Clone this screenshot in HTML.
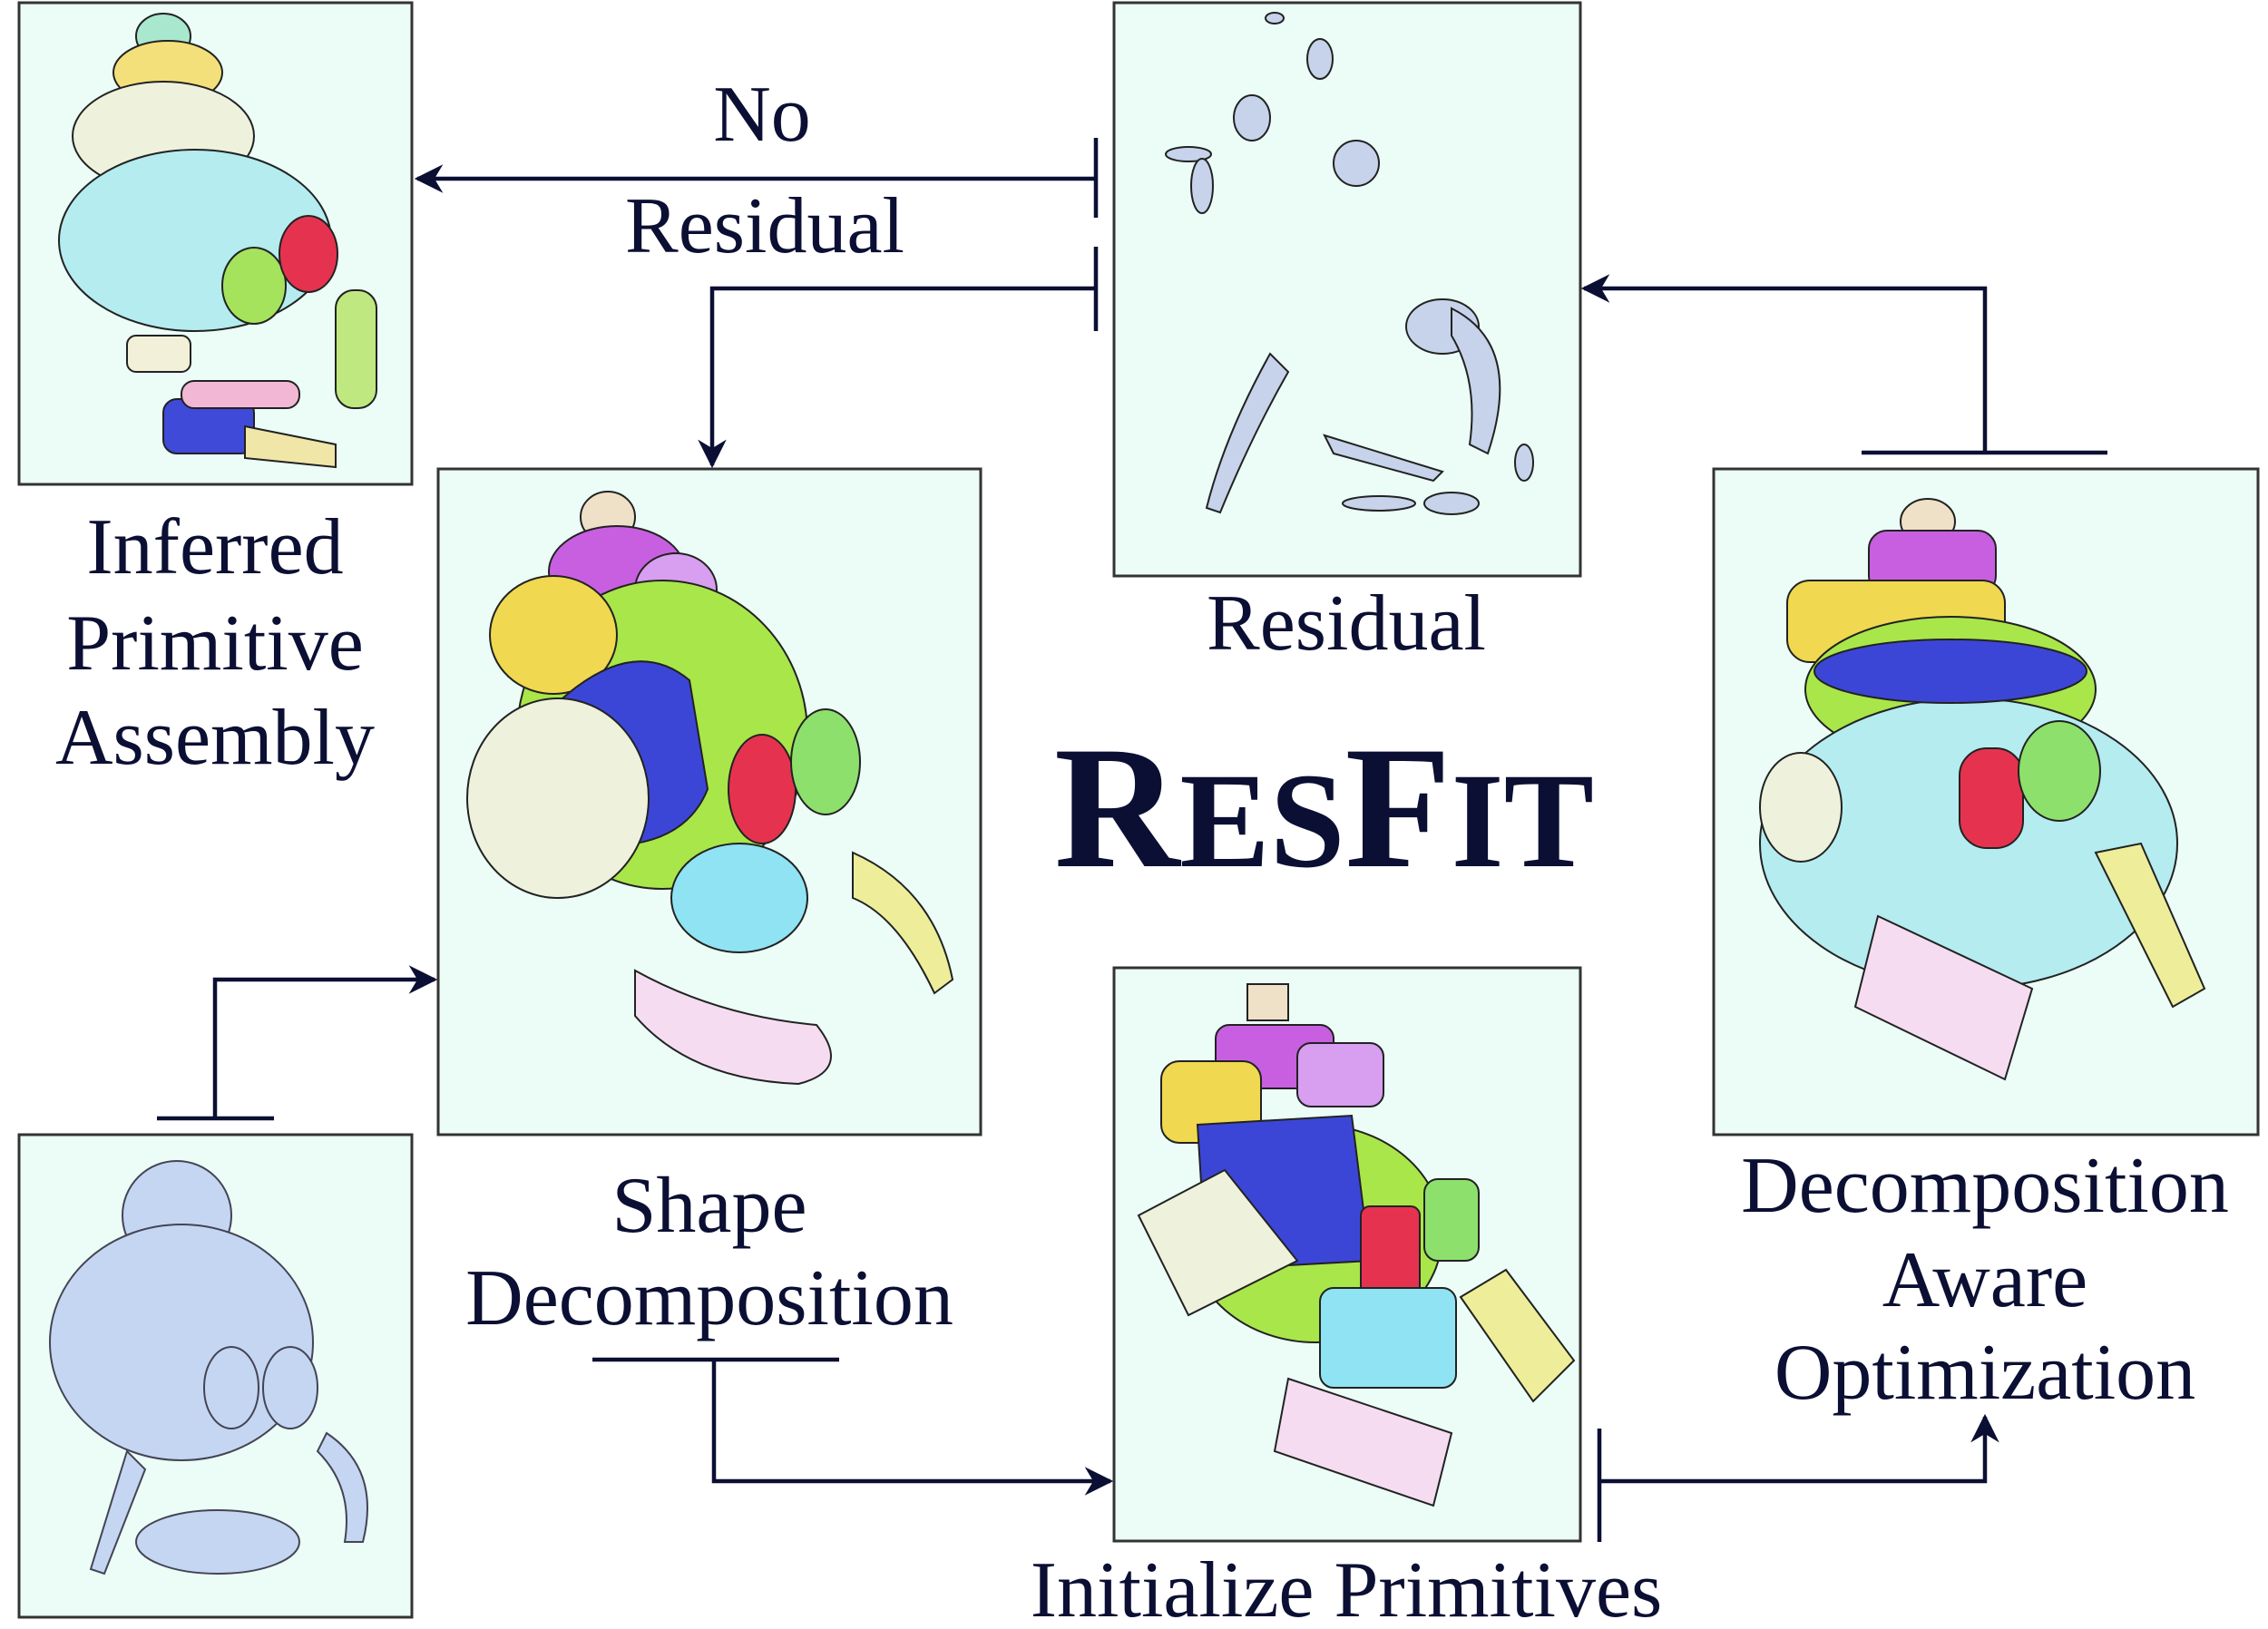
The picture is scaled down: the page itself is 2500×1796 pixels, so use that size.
<!DOCTYPE html>
<html><head><meta charset="utf-8"><style>
html,body{margin:0;padding:0;background:#fff}
svg{display:block}
text{font-family:"Liberation Serif",serif;fill:#0b0f33}
</style></head><body>
<svg width="2500" height="1796" viewBox="0 0 2500 1796" xmlns="http://www.w3.org/2000/svg">
<defs>
<marker id="ah" viewBox="0 0 20 20" refX="18" refY="10" markerWidth="7" markerHeight="7" orient="auto" markerUnits="strokeWidth">
<path d="M0,0 L20,10 L0,20 L6,10 Z" fill="#0b0f33"/></marker>
</defs>
<g fill="#ebfdf6" stroke="#333" stroke-width="3">
<rect x="21" y="3" width="433" height="531"/>
<rect x="483" y="517" width="598" height="734"/>
<rect x="1228" y="3" width="514" height="632"/>
<rect x="1228" y="1067" width="514" height="632"/>
<rect x="1889" y="517" width="600" height="734"/>
<rect x="21" y="1251" width="433" height="532"/>
</g>
<!-- panel 1: inferred -->
<g stroke="#222" stroke-width="2">
<ellipse cx="180" cy="40" rx="30" ry="25" fill="#a9e8cf"/>
<ellipse cx="185" cy="80" rx="60" ry="35" fill="#f4e07a"/>
<ellipse cx="180" cy="150" rx="100" ry="60" fill="#eef2dd"/>
<ellipse cx="215" cy="265" rx="150" ry="100" fill="#b4ecf0"/>
<ellipse cx="280" cy="315" rx="35" ry="42" fill="#a6e35d"/>
<ellipse cx="340" cy="280" rx="32" ry="42" fill="#e5334f"/>
<rect x="370" y="320" width="45" height="130" rx="20" fill="#bfe980"/>
<rect x="180" y="440" width="100" height="60" rx="15" fill="#3f4ad8"/>
<path d="M270 470 L370 490 L370 515 L270 505Z" fill="#f0e6a8"/>
<rect x="200" y="420" width="130" height="30" rx="14" fill="#f3b7d6"/>
<rect x="140" y="370" width="70" height="40" rx="10" fill="#f2f0d8"/>
</g>
<!-- panel shape decomposition -->
<g stroke="#222" stroke-width="2">
<ellipse cx="670" cy="570" rx="30" ry="28" fill="#efe0c8"/>
<ellipse cx="680" cy="630" rx="75" ry="50" fill="#c85fe0"/>
<ellipse cx="745" cy="650" rx="45" ry="40" fill="#d89ef0"/>
<ellipse cx="730" cy="810" rx="160" ry="170" fill="#a9e64a"/>
<ellipse cx="610" cy="700" rx="70" ry="65" fill="#f0d850"/>
<path d="M620 770 Q700 700 760 750 L780 870 Q760 920 700 930 L660 850Z" fill="#3c46d6"/>
<ellipse cx="615" cy="880" rx="100" ry="110" fill="#eef2dc"/>
<ellipse cx="840" cy="870" rx="37" ry="60" fill="#e5334f"/>
<ellipse cx="910" cy="840" rx="38" ry="58" fill="#8ee06c"/>
<ellipse cx="815" cy="990" rx="75" ry="60" fill="#8fe3f3"/>
<path d="M940 940 Q1030 980 1050 1080 L1030 1095 Q990 1010 940 990Z" fill="#eeee9a"/>
<path d="M700 1070 Q790 1120 900 1130 Q940 1180 880 1195 Q760 1190 700 1120Z" fill="#f5dcf0"/>
</g>
<!-- residual -->
<g fill="#c6d3ea" stroke="#222" stroke-width="2">
<ellipse cx="1405" cy="20" rx="10" ry="6"/>
<ellipse cx="1455" cy="65" rx="14" ry="22"/>
<ellipse cx="1380" cy="130" rx="20" ry="25"/>
<ellipse cx="1310" cy="170" rx="25" ry="8"/>
<ellipse cx="1495" cy="180" rx="25" ry="25"/>
<ellipse cx="1325" cy="205" rx="12" ry="30"/>
<ellipse cx="1590" cy="360" rx="40" ry="30"/>
<path d="M1600 340 Q1680 380 1640 500 L1620 490 Q1630 420 1600 370Z"/>
<path d="M1400 390 Q1350 480 1330 560 L1345 565 Q1380 480 1420 410Z"/>
<path d="M1460 480 L1590 520 L1580 530 L1470 500Z"/>
<ellipse cx="1600" cy="555" rx="30" ry="12"/>
<ellipse cx="1520" cy="555" rx="40" ry="8"/>
<ellipse cx="1680" cy="510" rx="10" ry="20"/>
</g>
<!-- init primitives -->
<g stroke="#222" stroke-width="2">
<rect x="1375" y="1085" width="45" height="40" fill="#efe0c8"/>
<rect x="1340" y="1130" width="130" height="70" rx="15" fill="#c85fe0"/>
<rect x="1430" y="1150" width="95" height="70" rx="15" fill="#d89ef0"/>
<rect x="1280" y="1170" width="110" height="90" rx="20" fill="#f0d850"/>
<ellipse cx="1450" cy="1360" rx="140" ry="120" fill="#a9e64a"/>
<path d="M1320 1240 L1490 1230 L1510 1390 L1330 1400Z" fill="#3c46d6"/>
<path d="M1255 1340 L1350 1290 L1430 1390 L1310 1450Z" fill="#eef2dc"/>
<rect x="1500" y="1330" width="65" height="100" rx="10" fill="#e5334f"/>
<rect x="1570" y="1300" width="60" height="90" rx="15" fill="#8ee06c"/>
<rect x="1455" y="1420" width="150" height="110" rx="15" fill="#8fe3f3"/>
<path d="M1610 1430 L1660 1400 L1735 1500 L1690 1545Z" fill="#eeee9a"/>
<path d="M1420 1520 L1600 1580 L1580 1660 L1405 1600Z" fill="#f5dcf0"/>
</g>
<!-- decomposition aware -->
<g stroke="#222" stroke-width="2">
<ellipse cx="2125" cy="575" rx="30" ry="25" fill="#efe0c8"/>
<rect x="2060" y="585" width="140" height="70" rx="20" fill="#c85fe0"/>
<rect x="1970" y="640" width="240" height="90" rx="25" fill="#f0d850"/>
<ellipse cx="2150" cy="760" rx="160" ry="80" fill="#a9e64a"/>
<ellipse cx="2170" cy="930" rx="230" ry="160" fill="#b4ecf0"/>
<ellipse cx="2150" cy="740" rx="150" ry="35" fill="#3c46d6"/>
<ellipse cx="1985" cy="890" rx="45" ry="60" fill="#eef2dc"/>
<rect x="2160" y="825" width="70" height="110" rx="30" fill="#e5334f"/>
<ellipse cx="2270" cy="850" rx="45" ry="55" fill="#8ee06c"/>
<path d="M2310 940 L2360 930 L2430 1090 L2395 1110Z" fill="#eeee9a"/>
<path d="M2070 1010 L2240 1090 L2210 1190 L2045 1110Z" fill="#f5dcf0"/>
</g>
<!-- input crab -->
<g fill="#c5d6f2" stroke="#445" stroke-width="2">
<ellipse cx="195" cy="1340" rx="60" ry="60"/>
<ellipse cx="200" cy="1480" rx="145" ry="130"/>
<ellipse cx="255" cy="1530" rx="30" ry="45"/>
<ellipse cx="320" cy="1530" rx="30" ry="45"/>
<ellipse cx="240" cy="1700" rx="90" ry="35"/>
<path d="M360 1580 Q420 1620 400 1700 L380 1700 Q390 1640 350 1600Z"/>
<path d="M140 1600 L100 1730 L115 1735 L160 1620Z"/>
</g>
<!-- connectors -->
<g stroke="#0b0f33" stroke-width="4.5" fill="none">
<line x1="1208" y1="152" x2="1208" y2="240"/>
<line x1="1208" y1="197" x2="460" y2="197" marker-end="url(#ah)"/>
<line x1="1208" y1="272" x2="1208" y2="365"/>
<polyline points="1208,318 785,318 785,513" marker-end="url(#ah)"/>
<line x1="173" y1="1233" x2="302" y2="1233"/>
<polyline points="237,1233 237,1080 479,1080" marker-end="url(#ah)"/>
<line x1="653" y1="1499" x2="925" y2="1499"/>
<polyline points="787,1499 787,1633 1224,1633" marker-end="url(#ah)"/>
<line x1="1763" y1="1575" x2="1763" y2="1700"/>
<polyline points="1763,1633 2188,1633 2188,1562" marker-end="url(#ah)"/>
<line x1="2052" y1="499" x2="2323" y2="499"/>
<polyline points="2188,499 2188,318 1746,318" marker-end="url(#ah)"/>
</g>
<!-- labels -->
<g font-size="88" text-anchor="middle">
<text x="840" y="155">No</text>
<text x="843" y="278">Residual</text>
<text x="237" y="632">Inferred</text>
<text x="237" y="738">Primitive</text>
<text x="237" y="842">Assembly</text>
<text x="1484" y="716">Residual</text>
<text x="782" y="1358">Shape</text>
<text x="782" y="1460">Decomposition</text>
<text x="1484" y="1782">Initialize Primitives</text>
<text x="2188" y="1336">Decomposition</text>
<text x="2188" y="1440">Aware</text>
<text x="2188" y="1542">Optimization</text>
</g>
<text x="1162" y="955" font-weight="bold" font-size="193" textLength="595" lengthAdjust="spacingAndGlyphs">R<tspan font-size="150">ES</tspan>F<tspan font-size="150">IT</tspan></text>
</svg>
</body></html>
